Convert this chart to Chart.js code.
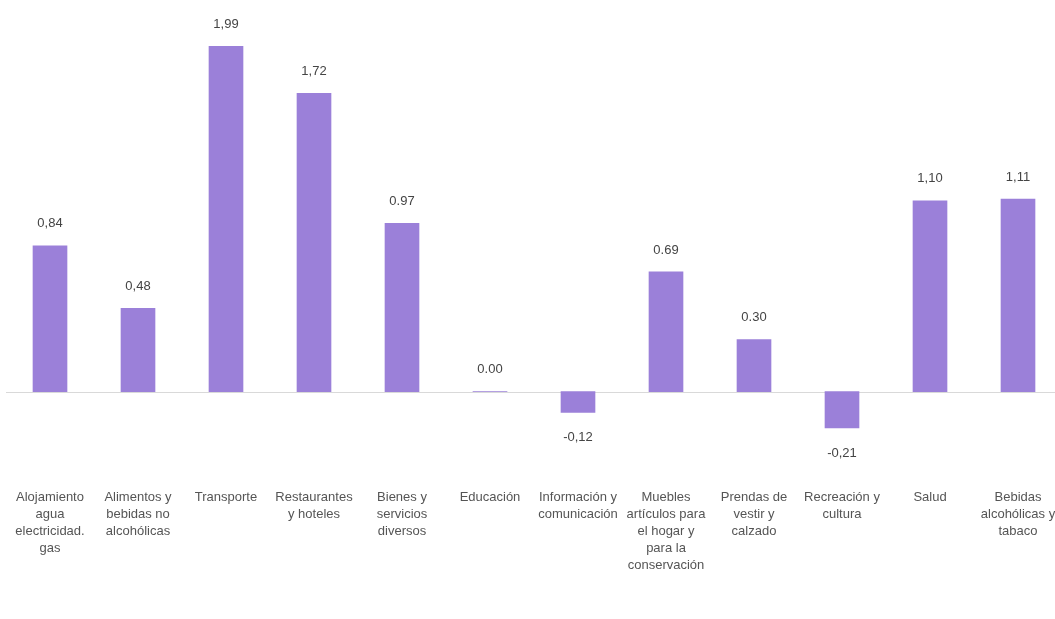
<!DOCTYPE html>
<html>
<head>
<meta charset="utf-8">
<script src="https://cdn.jsdelivr.net/npm/chart.js@4.4.1/dist/chart.umd.min.js"></script>
<style>
  html, body { margin: 0; padding: 0; background: #ffffff; overflow: hidden; }
  #wrap { width: 1055px; height: 619px; position: relative; overflow: hidden; }
  canvas { position: absolute; left: 0; top: 0; }
</style>
</head>
<body>
<div id="wrap"><canvas id="c" width="1070" height="619"></canvas></div>
<script>
const categories = [
  ["Alojamiento", "agua", "electricidad.", "gas"],
  ["Alimentos y", "bebidas no", "alcohólicas"],
  ["Transporte"],
  ["Restaurantes", "y hoteles"],
  ["Bienes y", "servicios", "diversos"],
  ["Educación"],
  ["Información y", "comunicación"],
  ["Muebles", "artículos para", "el hogar y", "para la", "conservación"],
  ["Prendas de", "vestir y", "calzado"],
  ["Recreación y", "cultura"],
  ["Salud"],
  ["Bebidas", "alcohólicas y", "tabaco"]
];
const values = [0.84, 0.48, 1.99, 1.72, 0.97, 0.00, -0.12, 0.69, 0.30, -0.21, 1.10, 1.11];
const valueLabels = ["0,84", "0,48", "1,99", "1,72", "0.97", "0.00", "-0,12", "0.69", "0.30", "-0,21", "1,10", "1,11"];

const FONT = "'Liberation Sans Narrow', 'Arial Narrow', 'Liberation Sans', sans-serif";

const decorPlugin = {
  id: 'decor',
  beforeDatasetsDraw(chart) {
    const ctx = chart.ctx;
    const y0 = Math.round(chart.scales.y.getPixelForValue(0)) + 0.5;
    ctx.save();
    ctx.strokeStyle = '#d9d9d9';
    ctx.lineWidth = 1;
    ctx.beginPath();
    ctx.moveTo(chart.chartArea.left, y0);
    ctx.lineTo(chart.chartArea.right, y0);
    ctx.stroke();
    ctx.restore();
  },
  afterDatasetsDraw(chart) {
    const ctx = chart.ctx;
    const meta = chart.getDatasetMeta(0);
    const y = chart.scales.y;
    ctx.save();
    ctx.font = '13px ' + FONT;
    ctx.fillStyle = '#444444';
    ctx.textAlign = 'center';
    ctx.textBaseline = 'middle';
    meta.data.forEach((bar, i) => {
      const v = values[i];
      const py = v < 0 ? y.getPixelForValue(v) + 25 : y.getPixelForValue(v) - 22;
      ctx.fillText(valueLabels[i], bar.x, py);
    });
    ctx.restore();
  }
};

new Chart(document.getElementById('c'), {
  type: 'bar',
  data: {
    labels: categories,
    datasets: [{
      data: values,
      backgroundColor: '#9b80d9',
      borderWidth: 0,
      barThickness: 34
    }]
  },
  options: {
    responsive: false,
    animation: false,
    layout: { padding: { left: 6, right: 8, top: 10, bottom: 25 } },
    plugins: { legend: { display: false }, tooltip: { enabled: false } },
    scales: {
      x: {
        grid: { display: false },
        border: { display: false },
        afterFit: (s) => { s.paddingLeft = 0; s.paddingRight = 0; },
        ticks: {
          color: '#555555',
          font: { size: 13, family: FONT, lineHeight: '17px' },
          padding: 20,
          maxRotation: 0,
          autoSkip: false
        }
      },
      y: {
        display: false,
        min: -0.4,
        max: 2.2
      }
    }
  },
  plugins: [decorPlugin]
});
</script>
</body>
</html>
